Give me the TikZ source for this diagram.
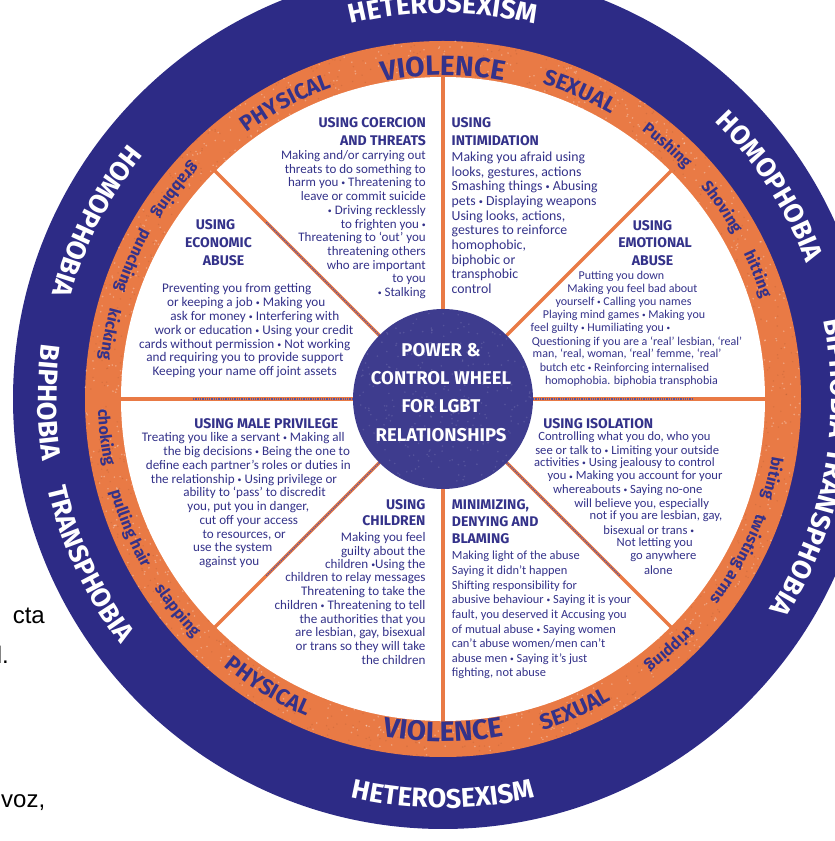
\documentclass[tikz,border=0pt]{standalone}
\usepackage{fontspec}
\setmainfont{Carlito}
\newfontfamily\ringfont{Fira Sans}
\newfontfamily\docfont{Liberation Sans}
\usetikzlibrary{decorations.text,calc}
\definecolor{navyring}{HTML}{2D2B86}
\definecolor{orangering}{HTML}{E97A45}
\definecolor{textnavy}{HTML}{34328A}
\definecolor{disknavy}{HTML}{3E3C8E}
\newcommand{\rfNavy}{\ringfont\bfseries\fontsize{27}{27}\selectfont}
\newcommand{\rfBig}{\ringfont\bfseries\fontsize{28}{28}\selectfont}
\newcommand{\rfMid}{\ringfont\bfseries\fontsize{22}{22}\selectfont}
\newcommand{\rfLow}{\ringfont\bfseries\fontsize{16}{16}\selectfont}
\newcommand{\bul}{\raisebox{0.12ex}{\scalebox{0.6}{•}}}
\newcommand{\cwtext}[5]{\path[decorate,decoration={text along path,text align=center,text color=#4,text={|#5|#3}}] ($(C)+({#2+80}:#1)$) arc[start angle={#2+80},end angle={#2-80},radius=#1];}
\newcommand{\ccwtext}[5]{\path[decorate,decoration={text along path,text align=center,text color=#4,text={|#5|#3}}] ($(C)+({#2-80}:#1)$) arc[start angle={#2-80},end angle={#2+80},radius=#1];}
\begin{document}
\begin{tikzpicture}[x=1pt,y=1pt,
  spoke/.style={orangering,line width=3.5pt},
  spokedots/.style={navyring!80,line width=1.3pt,densely dotted},
  head/.style={text=textnavy,inner sep=0pt,font=\ringfont\bfseries\fontsize{14}{14}\selectfont},
  sA/.style={text=textnavy,inner sep=0pt,font=\fontsize{13}{13}\selectfont},
  sB/.style={text=textnavy,inner sep=0pt,font=\fontsize{13.8}{13}\selectfont},
  sC/.style={text=textnavy,inner sep=0pt,font=\fontsize{12}{13}\selectfont},
  sD/.style={text=textnavy,inner sep=0pt,font=\fontsize{13.2}{13}\selectfont},
  sE/.style={text=textnavy,inner sep=0pt,font=\fontsize{13.1}{13}\selectfont},
  sF/.style={text=textnavy,inner sep=0pt,font=\fontsize{13.1}{13}\selectfont},
  sG/.style={text=textnavy,inner sep=0pt,font=\fontsize{12.4}{13}\selectfont},
  sH/.style={text=textnavy,inner sep=0pt,font=\fontsize{12.6}{13}\selectfont},
  centre/.style={text=white,inner sep=0pt,font=\ringfont\bfseries\fontsize{18.5}{18.5}\selectfont},
  doc/.style={text=black,inner sep=0pt,font=\docfont\fontsize{24}{24}\selectfont}]
\useasboundingbox (0,0) rectangle (835,841);
\clip (0,0) rectangle (835,841);
\fill[white] (0,0) rectangle (835,841);
\coordinate (C) at (443,442);
% rings
\fill[navyring] (C) circle (430);
\fill[orangering] (C) circle (358);
\pgfmathsetseed{7}
\foreach \i in {1,...,700}{
  \pgfmathsetmacro\ang{rnd*360}\pgfmathsetmacro\rad{322+rnd*36}
  \fill[white,opacity=0.3] ($(C)+(\ang:\rad)$) circle (0.9);}
\foreach \i in {1,...,500}{
  \pgfmathsetmacro\ang{rnd*360}\pgfmathsetmacro\rad{322+rnd*36}
  \fill[orangering!70!black,opacity=0.25] ($(C)+(\ang:\rad)$) circle (0.8);}
\fill[white] (C) circle (322);
% spokes
\foreach \a in {0,45,...,315} \draw[spoke] ($(C)+(\a:85)$) -- ($(C)+(\a:328)$);
\foreach \a in {0,135,180,225,315} \draw[spokedots] ($(C)+(\a:90)$) -- ($(C)+(\a:250)$);
\fill[disknavy] (C) circle (90);
\foreach \i in {1,...,300}{
  \pgfmathsetmacro\ang{rnd*360}\pgfmathsetmacro\rad{88*sqrt(rnd)}
  \fill[white,opacity=0.12] ($(C)+(\ang:\rad)$) circle (0.9);}
% navy ring texts
\cwtext{386}{90}{HETEROSEXISM}{white}{\rfNavy}
\cwtext{388}{33}{HOMOPHOBIA}{white}{\rfNavy}
\cwtext{388}{3}{BIPHOBIA}{white}{\rfNavy}
\cwtext{388}{-20}{TRANSPHOBIA}{white}{\rfNavy}
\ccwtext{409}{270}{HETEROSEXISM}{white}{\rfNavy}
\ccwtext{405}{153}{HOMOPHOBIA}{white}{\rfNavy}
\ccwtext{405}{180.5}{BIPHOBIA}{white}{\rfNavy}
\ccwtext{405}{205}{TRANSPHOBIA}{white}{\rfNavy}
% orange ring texts
\cwtext{323.5}{90}{VIOLENCE}{textnavy}{\rfBig}
\ccwtext{342.5}{270}{VIOLENCE}{textnavy}{\rfBig}
\cwtext{330.5}{118}{PHYSICAL}{textnavy}{\rfMid}
\cwtext{330.5}{66}{SEXUAL}{textnavy}{\rfMid}
\ccwtext{345.5}{238.7}{PHYSICAL}{textnavy}{\rfMid}
\ccwtext{345.5}{293}{SEXUAL}{textnavy}{\rfMid}
\cwtext{334}{48.5}{Pushing}{textnavy}{\rfLow}
\cwtext{334}{34.5}{Shoving}{textnavy}{\rfLow}
\cwtext{334}{21.7}{hitting}{textnavy}{\rfLow}
\cwtext{334}{-13.6}{biting}{textnavy}{\rfLow}
\cwtext{334}{-28.5}{twisting arms}{textnavy}{\rfLow}
\cwtext{334}{-47.8}{tripping}{textnavy}{\rfLow}
\ccwtext{345}{142}{grabbing}{textnavy}{\rfLow}
\ccwtext{345}{156}{punching}{textnavy}{\rfLow}
\ccwtext{345}{169}{kicking}{textnavy}{\rfLow}
\ccwtext{345}{186.5}{choking}{textnavy}{\rfLow}
\ccwtext{345}{202.5}{pulling hair}{textnavy}{\rfLow}
\ccwtext{345}{218.5}{slapping}{textnavy}{\rfLow}
% straight texts, y measured downward
\begin{scope}[shift={(0,841)},y=-1pt]
% centre
\node[centre] (cw1) at (441,350) {POWER \&};
\node[centre] (cw2) at (441,378) {CONTROL WHEEL};
\node[centre] (cw3) at (441,406) {FOR LGBT};
\node[centre] (cw4) at (441,435) {RELATIONSHIPS};
% coercion
\node[head,anchor=mid east] (h1a) at (426,125) {USING COERCION};
\node[head,anchor=mid east] (h1b) at (426,142.7) {AND THREATS};
\foreach \yy/\tx [count=\i] in {157.3/{Making and/or carrying out},171/{threats to do something to},184.3/{harm you \bul{} Threatening to},198.3/{leave or commit suicide},212.3/{\bul{} Driving recklessly},226/{to frighten you \bul},239.3/{Threatening to ‘out’ you},252.7/{threatening others},266.7/{who are important},280/{to you},294/{\bul{} Stalking}}
  \node[sA,anchor=mid east] (ta\i) at (426,\yy) {\tx};
% intimidation
\node[head,anchor=mid west] (h2a) at (451.5,125) {USING};
\node[head,anchor=mid west] (h2b) at (451.5,143.3) {INTIMIDATION};
\foreach \yy/\tx [count=\i] in {159.3/{Making you afraid using},174/{looks, gestures, actions},188.3/{Smashing things \bul{} Abusing},202.7/{pets \bul{} Displaying weapons},217.7/{Using looks, actions,},232.3/{gestures to reinforce},246.7/{homophobic,},261.7/{biphobic or},276/{transphobic},290.7/{control}}
  \node[sB,anchor=mid west] (tb\i) at (451.5,\yy) {\tx};
% emotional
\node[head] (h3a) at (652.5,226) {USING};
\node[head] (h3b) at (655,243) {EMOTIONAL};
\node[head] (h3c) at (652.5,261) {ABUSE};
\foreach \xx/\yy/\tx [count=\i] in {621.5/276/{Putting you down},632.5/289/{Making you feel bad about},623.5/302/{yourself \bul{} Calling you names},624/315/{Playing mind games \bul{} Making you},600.5/328/{feel guilty \bul{} Humiliating you \bul},637/342/{Questioning if you are a ‘real’ lesbian, ‘real’},627/354/{man, ‘real, woman, ‘real’ femme, ‘real’},624.5/368/{butch etc \bul{} Reinforcing internalised},631.5/381/{homophobia. biphobia transphobia}}
  \node[sC] (tc\i) at (\xx,\yy) {\tx};
% economic
\node[head] (h4a) at (215.5,225) {USING};
\node[head] (h4b) at (218.5,242.7) {ECONOMIC};
\node[head] (h4c) at (223.5,261) {ABUSE};
\foreach \xx/\yy/\tx [count=\i] in {236.7/289.3/{Preventing you from getting},246.2/303.3/{or keeping a job \bul{} Making you},254.8/317.3/{ask for money \bul{} Interfering with},254/330.7/{work or education \bul{} Using your credit},244.7/345/{cards without permission \bul{} Not working},245/358/{and requiring you to provide support},244.7/372.3/{Keeping your name off joint assets}}
  \node[sD] (td\i) at (\xx,\yy) {\tx};
% male privilege
\node[head] (h5a) at (266.2,423.3) {USING MALE PRIVILEGE};
\foreach \xx/\yy/\tx [count=\i] in {243.3/437.7/{Treating you like a servant \bul{} Making all},256.7/451.7/{the big decisions \bul{} Being the one to},248.3/465.7/{define each partner’s roles or duties in},244/480/{the relationship \bul{} Using privilege or},254.5/492.7/{ability to ‘pass’ to discredit},248.3/507.3/{you, put you in danger,},248.8/520.7/{cut off your access},244.2/535/{to resources, or},232.7/548.3/{use the system},229.2/562.3/{against you}}
  \node[sE] (te\i) at (\xx,\yy) {\tx};
% children
\node[head,anchor=mid east] (h6a) at (425.7,506.7) {USING};
\node[head,anchor=mid east] (h6b) at (425.7,523.3) {CHILDREN};
\foreach \yy/\tx [count=\i] in {539.3/{Making you feel},552.7/{guilty about the},566/{children \bul{}Using the},579.3/{children to relay messages},593.3/{Threatening to take the},606.7/{children \bul{} Threatening to tell},620.7/{the authorities that you},634/{are lesbian, gay, bisexual},648/{or trans so they will take},661.7/{the children}}
  \node[sF,anchor=mid east] (tf\i) at (425.7,\yy) {\tx};
% minimizing
\node[head,anchor=mid west] (h7a) at (451.7,507.3) {MINIMIZING,};
\node[head,anchor=mid west] (h7b) at (451.7,524) {DENYING AND};
\node[head,anchor=mid west] (h7c) at (451.7,541) {BLAMING};
\foreach \yy/\tx [count=\i] in {557.3/{Making light of the abuse},571.7/{Saying it didn’t happen},586.7/{Shifting responsibility for},601/{abusive behaviour \bul{} Saying it is your},616/{fault, you deserved it Accusing you},630.7/{of mutual abuse \bul{} Saying women},645/{can’t abuse women/men can’t},660/{abuse men \bul{} Saying it’s just},674/{fighting, not abuse}}
  \node[sG,anchor=mid west] (tg\i) at (451.7,\yy) {\tx};
% isolation
\node[head] (h8a) at (598.3,423.3) {USING ISOLATION};
\foreach \xx/\yy/\tx [count=\i] in {624.5/437.7/{Controlling what you do, who you},627.2/451/{see or talk to \bul{} Limiting your outside},624.5/463.3/{activities \bul{} Using jealousy to control},635/476.7/{you \bul{} Making you account for your},627.8/490/{whereabouts \bul{} Saying no-one},641.7/504/{will believe you, especially},656/516.7/{not if you are lesbian, gay,},648.8/530/{bisexual or trans \bul},654.7/543.3/{Not letting you},663.3/556/{go anywhere},658.3/570/{alone}}
  \node[sH] (th\i) at (\xx,\yy) {\tx};
% page fragments at the left
\node[doc,anchor=mid east] (dA) at (45,621) {cta};
\node[doc,anchor=mid east] (dB) at (9,661) {l.};
\node[doc,anchor=mid west] (dC) at (1,805) {voz,};
\end{scope}
\end{tikzpicture}
\end{document}
